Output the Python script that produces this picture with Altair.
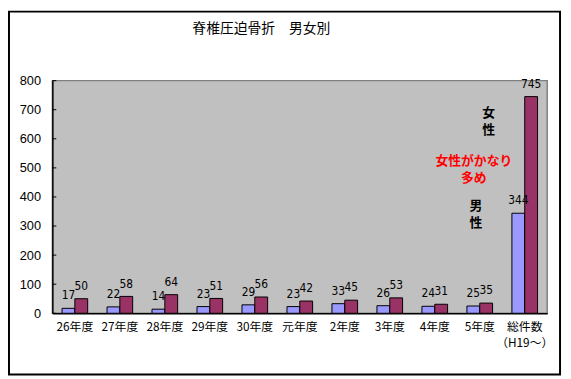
import altair as alt
import pandas as pd

categories = ["26年度", "27年度", "28年度", "29年度", "30年度", "元年度",
              "2年度", "3年度", "4年度", "5年度", "総件数\n（H19～）"]
male = [17, 22, 14, 23, 29, 23, 33, 26, 24, 25, 344]
female = [50, 58, 64, 51, 56, 42, 45, 53, 31, 35, 745]
sexes = ["男性", "女性"]
colors = ["#9999FF", "#993366"]
y_ticks = [0, 100, 200, 300, 400, 500, 600, 700, 800]
title_text = ["脊椎圧迫骨折　男女別"]

ann_text = ["女", "性", "男", "性", "女性がかなり", "多め"]
ann_cat = ["5年度"] * 6
ann_val = [689, 630, 370, 309, 525, 464]
ann_group = ["f", "f", "m", "m", "r", "r"]
group_dx = {"f": 9, "m": -4, "r": -6}
group_color = {"f": "black", "m": "black", "r": "red"}

rows = []
for c, m, f in zip(categories, male, female):
    rows.append({"cat": c, "sex": "男性", "value": m})
    rows.append({"cat": c, "sex": "女性", "value": f})
df = pd.DataFrame(rows)

ann = pd.DataFrame({"cat": ann_cat, "value": ann_val, "text": ann_text,
                    "grp": ann_group})

xscale = alt.Scale(domain=categories, paddingInner=0.43, paddingOuter=0.215)
yscale = alt.Scale(domain=[0, 800])

x_axis = alt.Axis(title=None, ticks=False, labelAngle=0,
                  labelFont="Noto Sans CJK JP", labelFontSize=12,
                  labelColor="black", labelPadding=8,
                  labelLineHeight=17, labelBaseline="top",
                  labelOverlap=False,
                  labelExpr="split(datum.label, '\\n')",
                  domainColor="black", domainWidth=1.5)
y_axis = alt.Axis(title=None, values=y_ticks, tickCount=9, ticks=False, grid=False,
                  labelFont="Liberation Sans", labelFontSize=13,
                  labelColor="black", labelPadding=12,
                  labelOverlap=False,
                  domainColor="black", domainWidth=1.5)

x_enc = alt.X("cat:N", sort=categories, scale=xscale, axis=x_axis)
y_enc = alt.Y("value:Q", scale=yscale, axis=y_axis)
xoff = alt.XOffset("sex:N", sort=sexes, scale=alt.Scale(paddingInner=0, paddingOuter=0))

base = alt.Chart(df).encode(x=x_enc, xOffset=xoff, y=y_enc)

bars = base.mark_bar(stroke="black", strokeWidth=1).encode(
    color=alt.Color("sex:N", scale=alt.Scale(domain=sexes, range=colors), legend=None)
)

labels = base.mark_text(baseline="bottom", dy=-6,
                        font="Liberation Sans Narrow, DejaVu Sans Condensed, sans-serif",
                        fontSize=12, color="black").encode(text="value:Q")

tickdf = pd.DataFrame({"value": y_ticks})
yticks = alt.Chart(tickdf).mark_rule(color="black").encode(
    y=y_enc, x=alt.value(0), x2=alt.value(4))

ann_layers = []
for g in ["f", "m", "r"]:
    ann_layers.append(
        alt.Chart(ann).transform_filter(alt.datum.grp == g).mark_text(
            fontWeight="bold", fontSize=13, font="Noto Sans CJK JP",
            dx=group_dx[g], color=group_color[g]).encode(
            x=x_enc,
            y=y_enc,
            text="text:N",
        )
    )

title = alt.Chart(pd.DataFrame({"t": title_text})).mark_text(
    fontSize=14, font="Noto Sans CJK JP", color="black").encode(
    text="t:N", x=alt.value(212), y=alt.value(-52))

frame = alt.Chart(pd.DataFrame({"a": [0]})).mark_rect(
    fill=None, stroke="black", strokeWidth=2).encode(
    x=alt.value(-44), x2=alt.value(515), y=alt.value(-70), y2=alt.value(298))

chart = alt.layer(bars, labels, yticks, *ann_layers, title, frame).properties(
    width=502, height=236,
    autosize=alt.AutoSizeParams(type="none"),
    padding={"left": 45, "top": 71, "right": 16, "bottom": 64},
    background="white",
).configure_view(fill="#C0C0C0", stroke="#808080", strokeWidth=1.5)

chart.save("out.html", embed_options={"renderer": "svg", "actions": False})
